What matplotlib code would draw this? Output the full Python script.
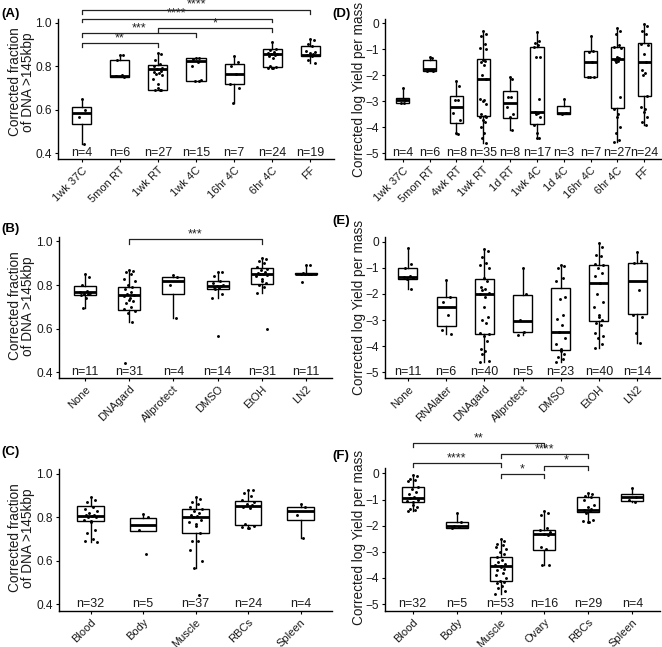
import numpy as np
import matplotlib
matplotlib.use('Agg')
from matplotlib import pyplot as plt
from matplotlib import transforms

plt.rcParams['font.family'] = ['Liberation Sans', 'DejaVu Sans']

# ---------------- panel A : fraction >145kbp by storage ----------------
a_cats = ['1wk 37C', '5mon RT', '1wk RT', '1wk 4C', '16hr 4C', '6hr 4C', 'FF']
a_n = [4, 6, 27, 15, 7, 24, 19]
a_q1 = [0.534, 0.752, 0.690, 0.733, 0.720, 0.795, 0.848]
a_med = [0.583, 0.757, 0.786, 0.822, 0.765, 0.857, 0.853]
a_q3 = [0.611, 0.828, 0.806, 0.837, 0.810, 0.880, 0.895]
a_lo = [0.443, 0.752, 0.690, 0.733, 0.633, 0.790, 0.815]
a_hi = [0.648, 0.850, 0.860, 0.838, 0.848, 0.913, 0.925]
a_pts = [
    [0.648, 0.60, 0.565, 0.443],
    [0.85, 0.85, 0.83, 0.76, 0.755, 0.752],
    [0.86, 0.855, 0.83, 0.81, 0.80, 0.79, 0.785, 0.78, 0.775, 0.77, 0.765, 0.76, 0.74, 0.72, 0.70, 0.69, 0.69, 0.69],
    [0.838, 0.838, 0.835, 0.82, 0.80, 0.735, 0.733, 0.733],
    [0.848, 0.82, 0.80, 0.765, 0.72, 0.70, 0.633],
    [0.913, 0.88, 0.875, 0.865, 0.86, 0.857, 0.855, 0.85, 0.845, 0.84, 0.80, 0.795, 0.79, 0.79, 0.79],
    [0.925, 0.92, 0.90, 0.895, 0.87, 0.865, 0.86, 0.855, 0.85, 0.848, 0.83, 0.815],
]
a_sig = [(0, 6, 1.058, '****'), (0, 5, 1.017, '****'), (2, 5, 0.974, '*'),
         (0, 3, 0.951, '***'), (0, 2, 0.905, '**')]

# ---------------- panel B : fraction >145kbp by preservative ----------------
b_cats = ['None', 'DNAgard', 'Allprotect', 'DMSO', 'EtOH', 'LN2']
b_n = [11, 31, 4, 14, 31, 11]
b_q1 = [0.755, 0.686, 0.758, 0.781, 0.806, 0.850]
b_med = [0.770, 0.755, 0.820, 0.798, 0.851, 0.853]
b_q3 = [0.798, 0.793, 0.836, 0.820, 0.877, 0.857]
b_lo = [0.694, 0.632, 0.648, 0.740, 0.763, 0.850]
b_hi = [0.850, 0.870, 0.847, 0.862, 0.926, 0.893]
b_pts = [
    [0.85, 0.835, 0.80, 0.775, 0.77, 0.765, 0.76, 0.758, 0.755, 0.74, 0.694],
    [0.87, 0.865, 0.86, 0.85, 0.83, 0.82, 0.80, 0.79, 0.78, 0.77, 0.76, 0.755, 0.75, 0.74, 0.73,
     0.725, 0.72, 0.70, 0.69, 0.68, 0.67, 0.632, 0.445],
    [0.847, 0.838, 0.80, 0.648],
    [0.862, 0.862, 0.84, 0.82, 0.81, 0.80, 0.798, 0.795, 0.79, 0.785, 0.78, 0.76, 0.74, 0.567],
    [0.926, 0.92, 0.91, 0.90, 0.885, 0.875, 0.87, 0.86, 0.855, 0.85, 0.85, 0.845, 0.84, 0.83,
     0.82, 0.81, 0.80, 0.79, 0.763, 0.60],
    [0.893, 0.893, 0.855, 0.853, 0.852, 0.85, 0.85, 0.85, 0.815],
]
b_sig = [(1, 4, 1.011, '***')]

# ---------------- panel C : fraction >145kbp by tissue ----------------
c_cats = ['Blood', 'Body', 'Muscle', 'RBCs', 'Spleen']
c_n = [32, 5, 37, 24, 4]
c_q1 = [0.783, 0.737, 0.729, 0.765, 0.788]
c_med = [0.806, 0.765, 0.803, 0.852, 0.831]
c_q3 = [0.852, 0.798, 0.837, 0.877, 0.849]
c_lo = [0.688, 0.737, 0.565, 0.749, 0.703]
c_hi = [0.895, 0.815, 0.895, 0.926, 0.862]
c_pts = [
    [0.895, 0.88, 0.87, 0.85, 0.84, 0.83, 0.82, 0.81, 0.81, 0.805, 0.80, 0.80, 0.79, 0.785, 0.78,
     0.74, 0.73, 0.70, 0.69, 0.688],
    [0.815, 0.80, 0.74, 0.632],
    [0.895, 0.885, 0.87, 0.86, 0.85, 0.84, 0.83, 0.82, 0.81, 0.805, 0.80, 0.79, 0.78, 0.77, 0.76,
     0.73, 0.69, 0.69, 0.65, 0.60, 0.565, 0.442],
    [0.926, 0.925, 0.91, 0.90, 0.88, 0.87, 0.86, 0.855, 0.85, 0.845, 0.77, 0.76, 0.755, 0.75, 0.749],
    [0.862, 0.85, 0.81, 0.703],
]

# ---------------- panel D : log yield by storage ----------------
d_cats = ['1wk 37C', '5mon RT', '4wk RT', '1wk RT', '1d RT', '1wk 4C', '1d 4C', '16hr 4C', '6hr 4C', 'FF']
d_n = [4, 6, 8, 35, 8, 17, 3, 7, 27, 24]
d_q1 = [-3.05, -1.83, -3.82, -3.55, -3.64, -3.87, -3.49, -2.05, -3.27, -2.78]
d_med = [-2.95, -1.77, -3.23, -2.15, -3.05, -3.40, -3.46, -1.49, -1.38, -1.47]
d_q3 = [-2.86, -1.41, -2.78, -1.38, -2.62, -0.92, -3.18, -1.05, -0.90, -0.77]
d_lo = [-3.05, -1.85, -4.25, -4.60, -4.10, -4.42, -3.49, -2.05, -4.55, -3.90]
d_hi = [-2.50, -1.28, -2.22, -0.30, -2.05, -0.35, -2.90, -0.49, -0.20, -0.04]
d_pts = [
    [-2.5, -2.95, -3.05, -3.05],
    [-1.28, -1.32, -1.78, -1.8, -1.83, -1.85],
    [-2.22, -2.4, -2.95, -2.95, -3.45, -3.7, -4.2, -4.25],
    [-0.3, -0.4, -0.5, -0.8, -0.95, -1.0, -1.4, -1.45, -1.5, -1.6, -2.0, -2.15, -2.9, -2.95, -3.0,
     -3.1, -3.5, -3.55, -3.6, -3.6, -3.7, -3.8, -4.0, -4.2, -4.4, -4.6],
    [-2.05, -2.15, -2.85, -2.85, -3.2, -3.5, -3.6, -4.1],
    [-0.35, -0.7, -0.75, -0.85, -0.9, -1.3, -1.3, -2.9, -3.4, -3.45, -3.5, -3.6, -3.9, -4.2, -4.42, -4.42],
    [-2.9, -3.45, -3.48],
    [-0.5, -1.05, -1.1, -1.5, -2.05, -2.05, -2.05],
    [-0.2, -0.3, -0.4, -0.85, -0.9, -0.95, -1.3, -1.35, -1.4, -1.45, -1.5, -2.85, -3.3, -3.5, -3.6,
     -4.0, -4.2, -4.5, -4.55],
    [-0.04, -0.1, -0.3, -0.4, -0.8, -0.85, -1.2, -1.5, -1.8, -1.9, -2.0, -2.8, -3.2, -3.3, -3.4,
     -3.6, -3.8, -3.9],
]

# ---------------- panel E : log yield by preservative ----------------
e_cats = ['None', 'RNAlater', 'DNAgard', 'Allprotect', 'DMSO', 'EtOH', 'LN2']
e_n = [11, 6, 40, 5, 23, 40, 14]
e_q1 = [-1.43, -3.23, -3.53, -3.44, -4.15, -3.04, -2.78]
e_med = [-1.35, -2.51, -1.99, -3.04, -3.44, -1.57, -1.50]
e_q3 = [-1.00, -2.13, -1.44, -2.04, -1.76, -0.89, -0.80]
e_lo = [-1.81, -3.55, -4.59, -3.57, -4.59, -4.06, -3.89]
e_hi = [-0.23, -1.48, -0.28, -1.02, -0.89, -0.06, -0.41]
e_pts = [
    [-0.23, -0.85, -1.0, -1.3, -1.35, -1.4, -1.42, -1.81],
    [-1.48, -2.1, -2.3, -2.8, -3.4, -3.55],
    [-0.28, -0.35, -0.6, -0.8, -0.9, -1.0, -1.4, -1.5, -1.75, -1.8, -1.85, -1.95, -2.0, -2.1, -2.5,
     -2.9, -3.0, -3.1, -3.5, -3.55, -3.6, -3.8, -4.1, -4.2, -4.3, -4.55, -4.59],
    [-1.02, -2.0, -3.0, -3.45, -3.57],
    [-0.89, -0.95, -1.0, -1.4, -1.5, -2.1, -2.2, -2.8, -2.95, -3.2, -3.45, -3.7, -3.9, -4.1, -4.2,
     -4.3, -4.4, -4.5, -4.59],
    [-0.06, -0.2, -0.5, -0.55, -0.85, -0.9, -1.0, -1.2, -1.3, -1.57, -2.0, -2.3, -2.5, -2.8, -2.9,
     -3.0, -3.1, -3.2, -3.5, -3.6, -3.7, -3.9, -4.06],
    [-0.41, -0.75, -0.8, -1.85, -2.8, -2.9, -3.5, -3.89],
]

# ---------------- panel F : log yield by tissue ----------------
f_cats = ['Blood', 'Body', 'Muscle', 'Ovary', 'RBCs', 'Spleen']
f_n = [32, 5, 53, 16, 29, 4]
f_q1 = [-1.09, -2.08, -4.10, -2.93, -1.48, -1.05]
f_med = [-0.93, -2.02, -3.56, -2.30, -1.38, -0.90]
f_q3 = [-0.50, -1.85, -3.20, -2.15, -0.90, -0.77]
f_lo = [-1.44, -2.08, -4.61, -3.50, -1.86, -1.08]
f_hi = [-0.05, -1.50, -2.51, -1.44, -0.76, -0.54]
f_pts = [
    [-0.05, -0.1, -0.2, -0.25, -0.3, -0.5, -0.6, -0.7, -0.8, -0.9, -0.95, -1.0, -1.05, -1.1, -1.2,
     -1.3, -1.35, -1.4, -1.44],
    [-1.5, -1.85, -2.02, -2.05, -2.08],
    [-2.51, -2.6, -2.7, -2.75, -2.8, -2.9, -3.0, -3.1, -3.2, -3.3, -3.4, -3.45, -3.5, -3.55, -3.6,
     -3.65, -3.7, -3.8, -3.9, -4.0, -4.1, -4.15, -4.2, -4.3, -4.4, -4.5, -4.61],
    [-1.44, -1.5, -1.6, -2.1, -2.15, -2.25, -2.3, -2.35, -2.8, -2.9, -3.5, -3.5],
    [-0.76, -0.8, -0.85, -0.9, -1.0, -1.2, -1.3, -1.35, -1.4, -1.45, -1.5, -1.8, -1.82, -1.84, -1.86],
    [-0.54, -0.9, -1.0, -1.08],
]
f_sig = [(0, 3, 1.157, '**'), (2, 4, 0.736, '****'), (0, 2, 0.391, '****'),
         (3, 4, 0.299, '*'), (2, 3, -0.031, '*')]

JITTER = [0.0, 0.09, -0.07, 0.05, -0.11, 0.12, -0.02, 0.07, -0.09, 0.03, -0.05, 0.11, -0.12, 0.01]
TXT = '#1a1a1a'
FRAC_LABEL = 'Corrected fraction\nof DNA >145kbp'
YIELD_LABEL = 'Corrected log Yield per mass'

W, H = 662, 647
fig = plt.figure(figsize=(W / 100, H / 100), dpi=100)
# ggplot-style 45 degree labels sit a little right of the tick
xlab_shift = transforms.ScaledTranslation(3 / 100, 0, fig.dpi_scale_trans)


def px_axes(l, r, t, b):
    return fig.add_axes([l / W, 1 - b / H, (r - l) / W, (b - t) / H])


def draw_panel(ax, cats, n, q1, med, q3, lo, hi, pts, ylim, xpad, yticks, n_y, sig=None, tick_dy=None):
    stats = []
    for i in range(len(cats)):
        stats.append(dict(q1=q1[i], med=med[i], q3=q3[i], whislo=lo[i], whishi=hi[i], fliers=[]))
    ax.bxp(stats, positions=range(len(cats)), widths=0.5, patch_artist=True, showcaps=False,
           boxprops=dict(facecolor='white', edgecolor='black', linewidth=1.0),
           medianprops=dict(color='black', linewidth=2.0),
           whiskerprops=dict(color='black', linewidth=1.0), zorder=2)
    for i, vals in enumerate(pts):
        xs = [i + JITTER[k % len(JITTER)] for k in range(len(vals))]
        ax.plot(xs, vals, 'o', color='black', markersize=2.1, markeredgewidth=0, zorder=3)
    for i, cnt in enumerate(n):
        ax.text(i, n_y, f'n={cnt}', ha='center', va='center', fontsize=9, color=TXT)
    if sig:
        for i, j, y, stars in sig:
            ax.plot([i, i, j, j], [y - tick_dy, y, y, y - tick_dy], color='#222222',
                    linewidth=0.9, clip_on=False)
            ax.text((i + j) / 2, y - 0.2 * tick_dy, stars, ha='center', va='bottom', fontsize=9,
                    color='#222222')
    ax.set_xlim(-xpad, len(cats) - 1 + xpad)
    ax.set_ylim(*ylim)
    ax.set_yticks(yticks)
    ax.set_xticks(range(len(cats)))
    ax.set_xticklabels(cats, rotation=45, ha='right', va='top', rotation_mode='anchor')
    for lab in ax.get_xticklabels():
        lab.set_transform(lab.get_transform() + xlab_shift)
    for s in ['top', 'right']:
        ax.spines[s].set_visible(False)
    for s in ['left', 'bottom']:
        ax.spines[s].set_linewidth(1.0)
    ax.tick_params(length=2.5, width=0.8, labelsize=8.6, labelcolor=TXT, pad=2)
    ax.tick_params(axis='x', labelsize=8.0, pad=1.8)
    ax.patch.set_alpha(0)


frac_ticks = [0.4, 0.6, 0.8, 1.0]
yld_ticks = [-5, -4, -3, -2, -1, 0]

axA = px_axes(58, 334, 19, 159.3)
draw_panel(axA, a_cats, a_n, a_q1, a_med, a_q3, a_lo, a_hi, a_pts, (0.372, 1.017), 0.62,
           frac_ticks, 0.4, a_sig, 0.016)
axA.set_yticklabels(['0.4', '0.6', '0.8', '1.0'])

axD = px_axes(385, 662, 19, 159.3)
draw_panel(axD, d_cats, d_n, d_q1, d_med, d_q3, d_lo, d_hi, d_pts, (-5.23, 0.165), 0.66,
           yld_ticks, -5)

axB = px_axes(59, 332, 236.7, 378)
draw_panel(axB, b_cats, b_n, b_q1, b_med, b_q3, b_lo, b_hi, b_pts, (0.374, 1.022), 0.59,
           frac_ticks, 0.4, b_sig, 0.022)
axB.set_yticklabels(['0.4', '0.6', '0.8', '1.0'])

axE = px_axes(385, 660, 236.7, 378)
draw_panel(axE, e_cats, e_n, e_q1, e_med, e_q3, e_lo, e_hi, e_pts, (-5.218, 0.19), 0.6,
           yld_ticks, -5)

axC = px_axes(59, 332, 469, 611)
draw_panel(axC, c_cats, c_n, c_q1, c_med, c_q3, c_lo, c_hi, c_pts, (0.368, 1.023), 0.6,
           frac_ticks, 0.4)
axC.set_yticklabels(['0.4', '0.6', '0.8', '1.0'])

axF = px_axes(385, 660, 468, 611)
draw_panel(axF, f_cats, f_n, f_q1, f_med, f_q3, f_lo, f_hi, f_pts, (-5.268, 0.21), 0.63,
           yld_ticks, -5, f_sig, 0.153)

# axis titles
for xc, yc, lab in [(21.5, 82, FRAC_LABEL), (21.5, 306, FRAC_LABEL), (21.5, 538, FRAC_LABEL),
                    (359, 89, YIELD_LABEL), (359, 307, YIELD_LABEL), (359, 537, YIELD_LABEL)]:
    fig.text(xc / W, 1 - yc / H, lab, rotation=90, ha='center', va='center', fontsize=9.8,
             color=TXT, linespacing=0.95)

# panel tags
for xc, yc, tag in [(1, 14, '(A)'), (1, 229, '(B)'), (1, 452, '(C)'),
                    (332, 14, '(D)'), (332, 221, '(E)'), (332, 456, '(F)')]:
    fig.text(xc / W, 1 - yc / H, tag, ha='left', va='center', fontsize=9.5, fontweight='bold')

fig.savefig('out.png', dpi=100)
